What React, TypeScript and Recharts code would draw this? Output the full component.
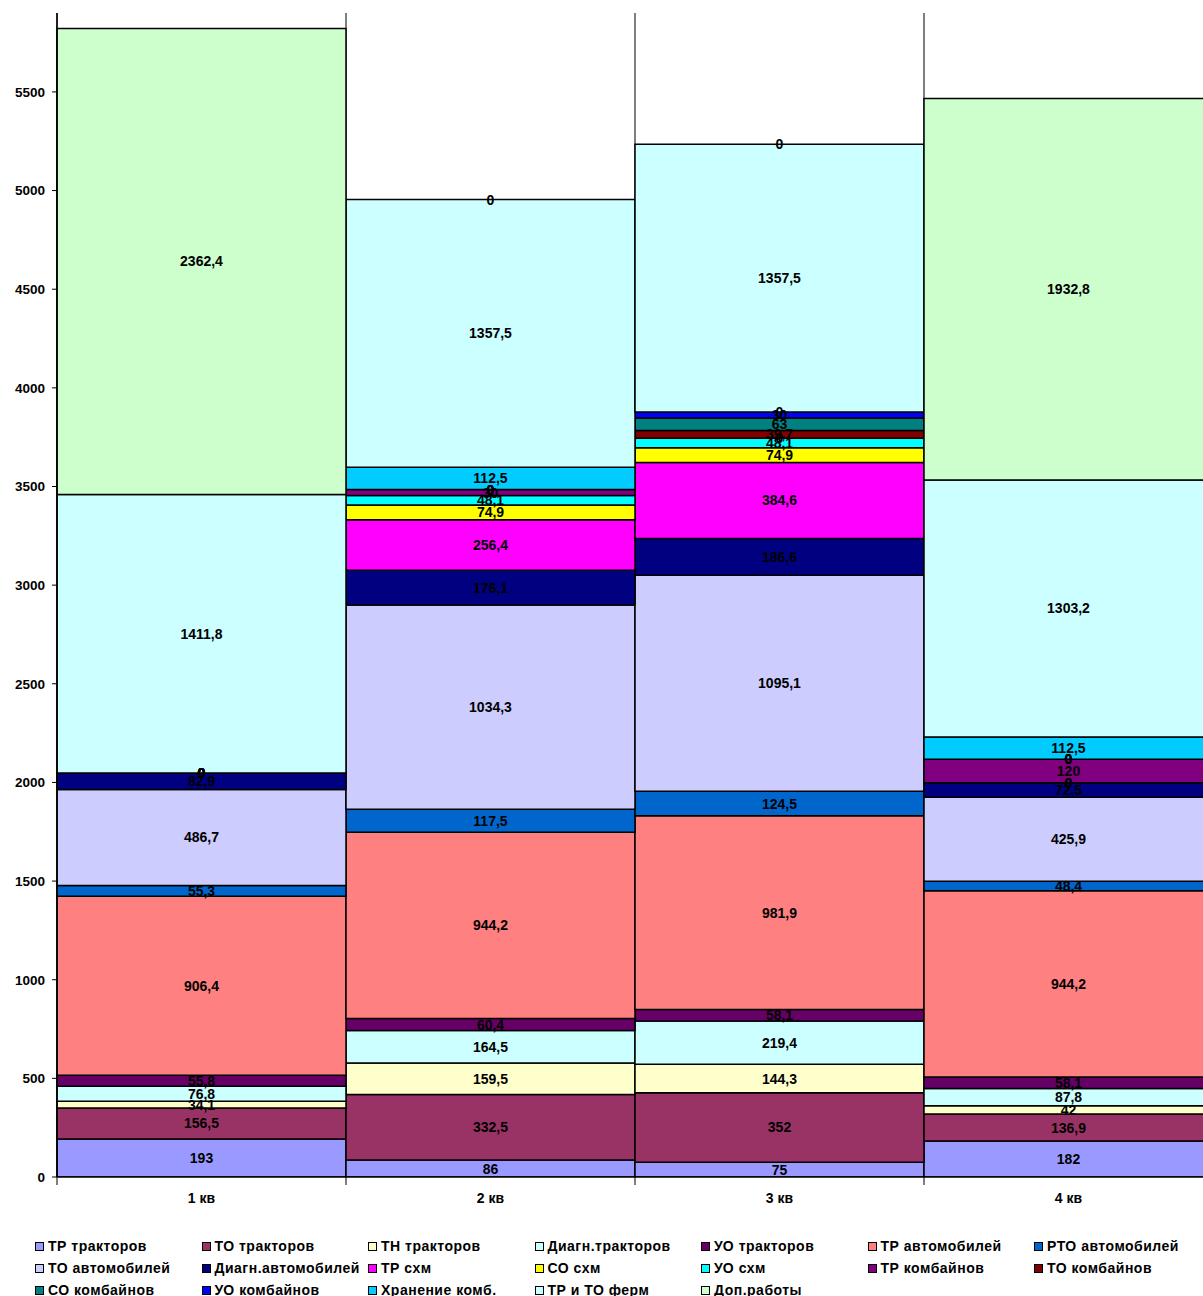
import { BarChart, Bar, XAxis, YAxis, CartesianGrid, LabelList, ReferenceDot } from 'recharts'

const QUARTERS = ['1 кв', '2 кв', '3 кв', '4 кв']

const trTraktorov = [193, 86, 75, 182]
const toTraktorov = [156.5, 332.5, 352, 136.9]
const tnTraktorov = [34.1, 159.5, 144.3, 42]
const diagnTraktorov = [76.8, 164.5, 219.4, 87.8]
const uoTraktorov = [55.8, 60.4, 58.1, 58.1]
const trAvto = [906.4, 944.2, 981.9, 944.2]
const rtoAvto = [55.3, 117.5, 124.5, 48.4]
const toAvto = [486.7, 1034.3, 1095.1, 425.9]
const diagnAvto = [82.9, 176.1, 186.6, 72.5]
const trSxm = [0, 256.4, 384.6, 0]
const soSxm = [0, 74.9, 74.9, 0]
const uoSxm = [0, 48.1, 48.1, 0]
const trKomb = [0, 30, 0, 120]
const toKomb = [0, 0, 39.7, 0]
const soKomb = [0, 0, 63, 0]
const uoKomb = [0, 0, 30, 0]
const hranenie = [0, 112.5, 0, 112.5]
const trToFerm = [1411.8, 1357.5, 1357.5, 1303.2]
const dopRaboty = [2362.4, 0, 0, 1932.8]

const Y_TICKS = [0, 500, 1000, 1500, 2000, 2500, 3000, 3500, 4000, 4500, 5000, 5500]

const SERIES = [
  { key: 's1', name: 'ТР тракторов', values: trTraktorov, color: '#9999FF' },
  { key: 's2', name: 'ТО тракторов', values: toTraktorov, color: '#993366' },
  { key: 's3', name: 'ТН тракторов', values: tnTraktorov, color: '#FFFFCC' },
  { key: 's4', name: 'Диагн.тракторов', values: diagnTraktorov, color: '#CCFFFF' },
  { key: 's5', name: 'УО тракторов', values: uoTraktorov, color: '#660066' },
  { key: 's6', name: 'ТР автомобилей', values: trAvto, color: '#FF8080' },
  { key: 's7', name: 'РТО автомобилей', values: rtoAvto, color: '#0066CC' },
  { key: 's8', name: 'ТО автомобилей', values: toAvto, color: '#CCCCFF' },
  { key: 's9', name: 'Диагн.автомобилей', values: diagnAvto, color: '#000080' },
  { key: 's10', name: 'ТР схм', values: trSxm, color: '#FF00FF' },
  { key: 's11', name: 'СО схм', values: soSxm, color: '#FFFF00' },
  { key: 's12', name: 'УО схм', values: uoSxm, color: '#00FFFF' },
  { key: 's13', name: 'ТР комбайнов', values: trKomb, color: '#800080' },
  { key: 's14', name: 'ТО комбайнов', values: toKomb, color: '#800000' },
  { key: 's15', name: 'СО комбайнов', values: soKomb, color: '#008080' },
  { key: 's16', name: 'УО комбайнов', values: uoKomb, color: '#0000FF' },
  { key: 's17', name: 'Хранение комб.', values: hranenie, color: '#00CCFF' },
  { key: 's18', name: 'ТР и ТО ферм', values: trToFerm, color: '#CCFFFF' },
  { key: 's19', name: 'Доп.работы', values: dopRaboty, color: '#CCFFCC' },
]

const data = QUARTERS.map((q, i) => {
  const row: Record<string, string | number> = { quarter: q }
  SERIES.forEach(s => { row[s.key] = s.values[i] })
  return row
})

// zero-valued segments get no label from LabelList, so place their "0" at the stack level
const zeroLabels: { quarter: string; level: number; id: string }[] = []
QUARTERS.forEach((q, i) => {
  let acc = 0
  SERIES.forEach(s => {
    if (s.values[i] === 0) zeroLabels.push({ quarter: q, level: acc, id: `${s.key}-${i}` })
    acc += s.values[i]
  })
})

const FONT = '"Liberation Sans", Arial, sans-serif'
const fmt = (v: number) => String(v).replace('.', ',')

const renderLabel = (p: any) => {
  const { x, y, width, height, value } = p
  return (
    <text
      x={Number(x) + Number(width) / 2}
      y={Number(y) + Number(height) / 2}
      textAnchor="middle"
      dominantBaseline="central"
      fontSize={14}
      fontWeight="bold"
      fontFamily={FONT}
      fill="#000"
    >
      {fmt(Number(value))}
    </text>
  )
}

const ZeroShape = (p: any) => (
  <text
    x={p.cx}
    y={p.cy}
    textAnchor="middle"
    dominantBaseline="central"
    fontSize={14}
    fontWeight="bold"
    fontFamily={FONT}
    fill="#000"
  >
    0
  </text>
)

const XTick = (p: any) => {
  const { x, y, payload, width } = p
  const half = payload?.offset ?? Number(width) / QUARTERS.length / 2
  return (
    <g>
      <line x1={x - half} x2={x - half} y1={y - 8} y2={y} stroke="#000" strokeWidth={1} />
      <text x={x} y={y + 18} textAnchor="middle" fontSize={14} fontWeight="bold" fontFamily={FONT} fill="#000">
        {payload.value}
      </text>
    </g>
  )
}

export default function App() {
  return (
    <div style={{ position: 'absolute', left: 0, top: 0, width: 1203, height: 1296, overflow: 'hidden', background: '#fff', fontFamily: FONT }}>
      <BarChart
        width={1220}
        height={1217}
        data={data}
        margin={{ top: 13, right: 7, bottom: 0, left: 0 }}
        barCategoryGap={0}
      >
        <CartesianGrid
          horizontal={false}
          stroke="#000"
          strokeDasharray=""
          verticalCoordinatesGenerator={({ offset }: any) =>
            QUARTERS.map((_, i) => offset.left + (i * offset.width) / QUARTERS.length)
          }
        />
        <XAxis
          dataKey="quarter"
          height={40}
          axisLine={{ stroke: '#000', strokeWidth: 1.5 }}
          tickLine={false}
          tick={<XTick />}
          interval={0}
        />
        <YAxis
          width={57}
          domain={[0, 5900]}
          ticks={Y_TICKS}
          allowDataOverflow
          axisLine={{ stroke: '#000', strokeWidth: 1.5 }}
          tickLine={{ stroke: '#000' }}
          tickSize={5}
          tickMargin={7}
          tick={{ fontSize: 13.5, fontWeight: 'bold', fill: '#000', fontFamily: FONT }}
        />
        {SERIES.map(s => (
          <Bar
            key={s.key}
            dataKey={s.key}
            name={s.name}
            stackId="a"
            fill={s.color}
            stroke="#000"
            strokeWidth={1.5}
            isAnimationActive={false}
          >
            <LabelList dataKey={s.key} content={renderLabel} />
          </Bar>
        ))}
        {zeroLabels.map(z => (
          <ReferenceDot key={z.id} x={z.quarter} y={z.level} r={0} shape={ZeroShape} ifOverflow="visible" />
        ))}
      </BarChart>
      <div
        style={{
          position: 'absolute',
          left: 35,
          top: 1235,
          display: 'grid',
          gridTemplateColumns: 'repeat(7, 166.5px)',
          gridAutoRows: '22px',
        }}
      >
        {SERIES.map(s => (
          <div
            key={s.key}
            style={{ display: 'flex', alignItems: 'center', fontSize: 14, fontWeight: 'bold', whiteSpace: 'nowrap', letterSpacing: 0.5 }}
          >
            <span
              style={{
                display: 'inline-block',
                width: 7,
                height: 7,
                background: s.color,
                border: '1px solid #000',
                marginRight: 4,
              }}
            />
            {s.name}
          </div>
        ))}
      </div>
    </div>
  )
}
